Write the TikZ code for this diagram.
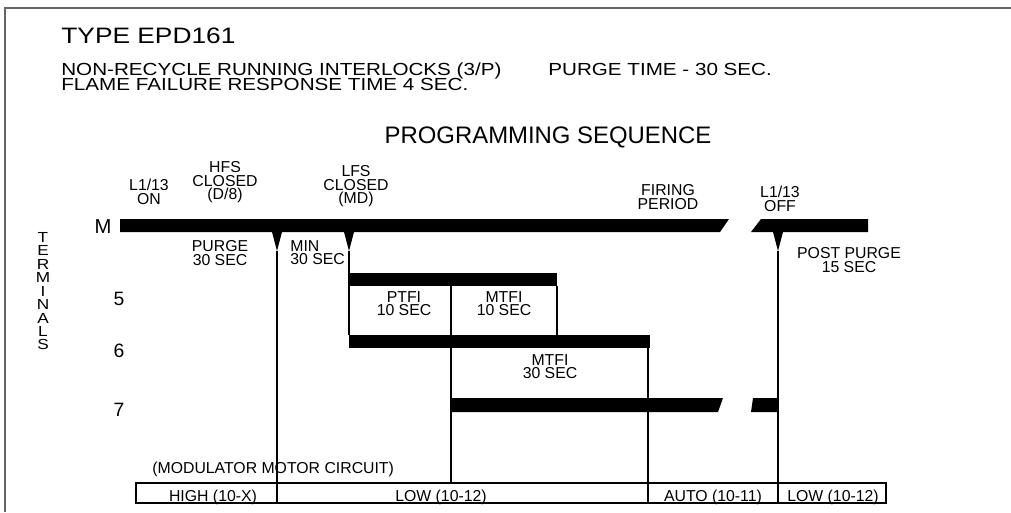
\documentclass[tikz,border=0pt]{standalone}
\usepackage{fontspec}
\setmainfont{Liberation Sans}
\newfontfamily\widesans{Liberation Sans}[FakeStretch=1.18]
\usetikzlibrary{positioning}

\tikzset{
  lbl/.style={font=\fontsize{9}{7.8}\selectfont, align=center, inner sep=0pt, anchor=north},
  hdr/.style={font=\widesans\fontsize{9.95}{8}\selectfont, inner sep=0pt, anchor=base west},
  term/.style={font=\fontsize{11}{12}\selectfont, inner sep=0pt, anchor=base},
  cell/.style={font=\fontsize{9}{10}\selectfont, inner sep=0pt, anchor=base},
  signal/.style={fill=black},
  frameline/.style={draw=black!60, line width=1.1pt},
}

\begin{document}
\begin{tikzpicture}[x=0.02cm, y=-0.02cm]
\useasboundingbox (0,0) rectangle (1011,512);

\begin{scope}
  \draw[frameline] (5,512) -- (5,8) -- (1011,8);
  \draw[line width=0.6pt] (136,483) rectangle (886,503);
\end{scope}

\begin{scope}
  \node[font=\widesans\fontsize{12.7}{14}\selectfont, inner sep=0pt, anchor=base west] (type) at (61,43) {TYPE EPD161};
  \node[hdr] (interlock) at (61,75) {NON-RECYCLE RUNNING INTERLOCKS (3/P)};
  \node[hdr] (purgetime) at (548,75) {PURGE TIME - 30 SEC.};
  \node[hdr] (failure) at (61,90) {FLAME FAILURE RESPONSE TIME 4 SEC.};
  \node[font=\fontsize{13.6}{15}\selectfont, inner sep=0pt, anchor=base] (seq) at (548,143) {PROGRAMMING SEQUENCE};
\end{scope}

\begin{scope}
  \node[font=\widesans\fontsize{8.3}{7.65}\selectfont, align=center, inner sep=0pt, anchor=north] (terminals) at (43,232) {T\\E\\R\\M\\I\\N\\A\\L\\S};
  \node[term, font=\fontsize{11.5}{12}\selectfont] (tM) at (103,233) {M};
  \node[term] (t5) at (119,305) {5};
  \node[term] (t6) at (119,357) {6};
  \node[term] (t7) at (119,416) {7};
\end{scope}

\begin{scope}[every node/.style={lbl}]
  \node (on) at (149,179) {L1/13\\ON};
  \node (hfsclosed) at (225,161) {HFS\\CLOSED\\(D/8)};
  \node (lfsclosed) at (356,165) {LFS\\CLOSED\\(MD)};
  \node (firing) at (668,184) {FIRING\\PERIOD};
  \node (offlbl) at (780,186) {L1/13\\OFF};
  \node (purge) at (220,240) {PURGE\\30 SEC};
  \node[anchor=north west, align=left] (min) at (290,240) {MIN\\30 SEC};
  \node (postpurge) at (849,247) {POST PURGE\\15 SEC};
  \node (ptfi) at (404,291) {PTFI\\10 SEC};
  \node (mtfi1) at (504,291) {MTFI\\10 SEC};
  \node (mtfi2) at (550,354) {MTFI\\30 SEC};
\end{scope}

\begin{scope}
  \node[cell, anchor=base west] (modmotor) at (152,473) {(MODULATOR MOTOR CIRCUIT)};
  \node[cell] (high) at (213,501) {HIGH (10-X)};
  \node[cell] (low1) at (441,501) {LOW (10-12)};
  \node[cell] (auto) at (713,501) {AUTO (10-11)};
  \node[cell] (low2) at (833,501) {LOW (10-12)};
\end{scope}

\begin{scope}
  \coordinate (hfs) at (277,251);
  \coordinate (hfsend) at (277,503);
  \coordinate (lfs) at (349,251);
  \coordinate (lfsend) at (349,335);
  \coordinate (ptfiend) at (451,286);
  \coordinate (ptfibox) at (451,483);
  \coordinate (mtfiend) at (557,286);
  \coordinate (mtfibar) at (557,335);
  \coordinate (autotop) at (648,348);
  \coordinate (autoend) at (648,503);
  \coordinate (off) at (778,251);
  \coordinate (offend) at (778,503);
\end{scope}

\begin{scope}
  \fill[signal] (120,219) -- (729,219) -- (720,232) -- (120,232) -- cycle;
  \fill[signal] (761,219) -- (868,219) -- (868,232) -- (751,232) -- cycle;
  \fill[signal] (349,273) rectangle (557,286);
  \fill[signal] (349,335) rectangle (650,348);
  \fill[signal] (451,398) -- (723,398) -- (718,412) -- (451,412) -- cycle;
  \fill[signal] (753,398) -- (778,398) -- (778,412) -- (751,412) -- cycle;
  \fill[signal] (272,232) -- (282,232) -- (hfs) -- cycle;
  \fill[signal] (344,232) -- (354,232) -- (lfs) -- cycle;
  \fill[signal] (773,232) -- (783,232) -- (off) -- cycle;
\end{scope}

\begin{scope}[every edge/.style={draw, line width=0.6pt}]
  \path (hfs) edge (hfsend);
  \path (lfs) edge (lfsend);
  \path (ptfiend) edge (ptfibox);
  \path (mtfiend) edge (mtfibar);
  \path (autotop) edge (autoend);
  \path (off) edge (offend);
\end{scope}
\end{tikzpicture}
\end{document}
